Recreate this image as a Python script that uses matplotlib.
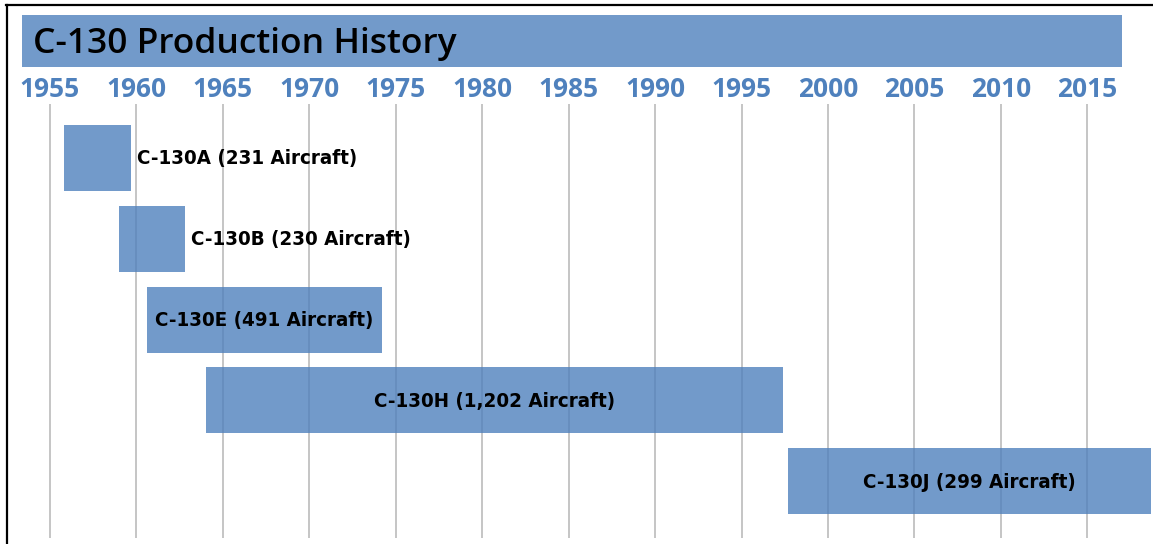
import matplotlib
matplotlib.use("Agg")
import matplotlib.pyplot as plt
from matplotlib import font_manager
from matplotlib.patches import Rectangle
from matplotlib.lines import Line2D

# ---- data ----
title = "C-130 Production History"
models = ["C-130A", "C-130B", "C-130E", "C-130H", "C-130J"]
aircraft = ["231", "230", "491", "1,202", "299"]
start_year = [1955.8, 1959.0, 1960.6, 1964.0, 1997.7]
end_year = [1959.7, 1962.8, 1974.2, 1997.4, 2018.7]
tick_years = list(range(1955, 2020, 5))

# ---- styling ----
W, H = 1153, 544
BLUE = "#4F81BD"

# pick the narrowest bold font available for the bar labels
ttf = font_manager.fontManager.ttflist
label_family, label_stretch = "Liberation Sans", "normal"
if any(f.name == "Liberation Sans Narrow" for f in ttf):
    label_family, label_stretch = "Liberation Sans Narrow", "normal"
elif any(f.name == "DejaVu Sans" and str(f.stretch) in ("condensed", "semi-condensed")
         and str(f.weight) in ("bold", "700") for f in ttf):
    label_family, label_stretch = "DejaVu Sans", "condensed"

fig = plt.figure(figsize=(W / 100, H / 100), dpi=100)
fig.patch.set_facecolor("white")

def fx(px):
    return px / W

def fy(py):
    return 1 - py / H

# measure label font so "C-130A (231 Aircraft)" is ~221 px wide
renderer = fig.canvas.get_renderer()
probe = fig.text(0, 0, "C-130A (231 Aircraft)", fontsize=20, fontfamily=label_family,
                 fontstretch=label_stretch, fontweight="bold")
pw = probe.get_window_extent(renderer).width
probe.remove()
label_size = 20 * 221.0 / pw
cap_px = 0.72 * label_size * 100 / 72.0

# axes: 1955 -> px 50, 2015 -> px 1087.3
ppy = (1087.3 - 50) / 60.0
x0 = 1955 - 50 / ppy
x1 = 1955 + (W - 50) / ppy
ax_top, ax_bot = 104, 538
ax = fig.add_axes([0, fy(ax_bot), 1, (ax_bot - ax_top) / H])
ax.set_xlim(x0, x1)
row = 80.9
c0 = 157.7
ax.set_ylim((ax_bot - c0) / row, -(c0 - ax_top) / row)
for s in ax.spines.values():
    s.set_visible(False)
ax.set_yticks([])
ax.set_xticks(tick_years)
ax.xaxis.tick_top()
ax.tick_params(axis="x", length=0, pad=0.5, labelsize=19, labelcolor=BLUE)
for lab in ax.get_xticklabels():
    lab.set_fontfamily("Open Sans")
    lab.set_fontweight("bold")
ax.grid(axis="x", color="#c0c0c0", lw=1.3, zorder=0)
ax.set_axisbelow(True)

bar_h = 66 / row
cap_off = (cap_px / 2 - 1) / row
for i, (m, n, s, e) in enumerate(zip(models, aircraft, start_year, end_year)):
    ax.barh(i, e - s, left=s, height=bar_h, color=BLUE, alpha=0.8, zorder=2,
            edgecolor="none")
    label = f"{m} ({n} Aircraft)"
    if e - s < 8:
        tx, ha = e + 0.35, "left"
    else:
        tx, ha = (s + min(e, x1)) / 2, "center"
    ax.text(tx, i + cap_off, label, ha=ha, va="baseline", fontsize=label_size,
            fontfamily=label_family, fontstretch=label_stretch, fontweight="bold",
            color="black", zorder=3)

# title bar
fig.patches.append(Rectangle((fx(21.7), fy(66.7)), fx(1122.3) - fx(21.7),
                             fy(15) - fy(66.7), transform=fig.transFigure,
                             facecolor=BLUE, alpha=0.8, edgecolor="none"))
fig.text(fx(33), fy(53.3), title, ha="left", va="baseline", fontsize=25.5,
         fontfamily="Open Sans", fontweight="semibold", color="black")

# frame lines (top and left)
fig.lines.append(Line2D([fx(6), 1], [fy(5), fy(5)], transform=fig.transFigure,
                        color="black", lw=1.6))
fig.lines.append(Line2D([fx(7), fx(7)], [fy(5), 0], transform=fig.transFigure,
                        color="black", lw=1.6))

fig.savefig("out.png", dpi=100)
